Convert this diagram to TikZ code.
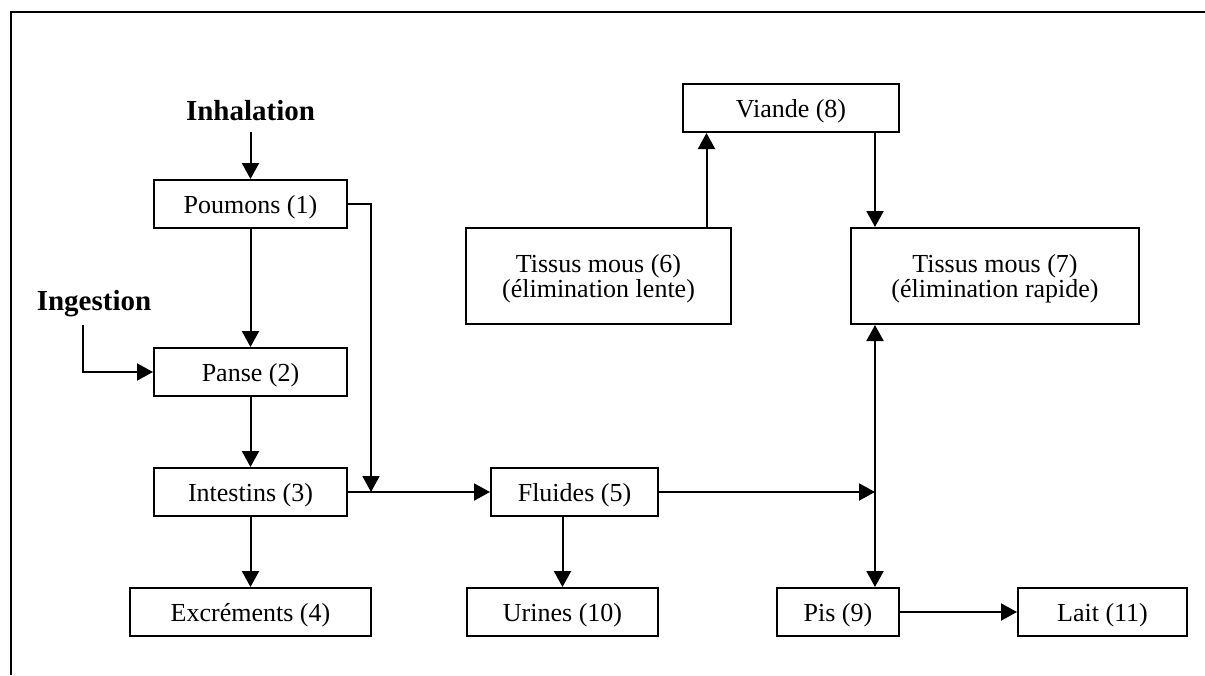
\documentclass[tikz,border=0pt]{standalone}
\usepackage{fontspec}
\setmainfont{Liberation Serif}
\usetikzlibrary{arrows.meta}
\begin{document}
\begin{tikzpicture}[x=0.5pt,y=-0.5pt,
  box/.style={draw,line width=1pt,rectangle,inner sep=0pt,anchor=center,text depth=0pt,
    font=\fontsize{13}{12.5}\selectfont,align=center},
  lbl/.style={inner sep=0pt,font=\fontsize{14.5}{16}\selectfont\bfseries},
  arr/.style={line width=1pt,-{Triangle[length=8pt,width=8.5pt]}},
  arrb/.style={line width=1pt,{Triangle[length=8pt,width=8.5pt]}-{Triangle[length=8pt,width=8.5pt]}}]
\useasboundingbox (0,0) rectangle (1205,675);
% frame
\draw[line width=1pt] (11,675) -- (11,12) -- (1205,12);

% boxes
\node[box,minimum width=96.5pt,minimum height=24pt] (poumons) at (250.5,204) {Poumons (1)};
\node[box,minimum width=96.5pt,minimum height=24pt] (panse) at (250.5,372) {Panse (2)};
\node[box,minimum width=96.5pt,minimum height=24pt] (intestins) at (250.5,492) {Intestins (3)};
\node[box,minimum width=120.5pt,minimum height=24pt] (excrements) at (250.5,612) {Excréments (4)};
\node[box,minimum width=83.5pt,minimum height=24pt] (fluides) at (574.5,492) {Fluides (5)};
\node[box,minimum width=95.5pt,minimum height=24pt] (urines) at (562.5,612) {Urines (10)};
\node[box,minimum width=108pt,minimum height=24pt] (viande) at (791,108) {Viande (8)};
\node[box,minimum width=132.5pt,minimum height=48pt] (tissus6) at (598.5,276) {Tissus mous (6)\\(élimination lente)};
\node[box,minimum width=144pt,minimum height=48pt] (tissus7) at (995,276) {Tissus mous (7)\\(élimination rapide)};
\node[box,minimum width=61pt,minimum height=24pt] (pis) at (838,612) {Pis (9)};
\node[box,minimum width=84.5pt,minimum height=24pt] (lait) at (1102.5,612) {Lait (11)};

% entry labels
\node[lbl] (inhal) at (250.5,111) {Inhalation};
\node[lbl] (ingest) at (94,304) {Ingestion};

% junction points
\coordinate (ingtop) at (83,325);
\coordinate (jl) at (371,492);
\coordinate (jr) at (875,492);

% connectors
\draw[arr,shorten <=5pt] (poumons.north |- inhal.south) -- (poumons.north);
\draw[arr] (ingtop) |- (panse.west);
\draw[arr] (poumons.south) -- (panse.north);
\draw[arr] (panse.south) -- (intestins.north);
\draw[arr] (intestins.south) -- (excrements.north);
\draw[arr] (poumons.east) -| (jl);
\draw[arr] (intestins.east) -- (fluides.west);
\draw[arr] (urines.north |- fluides.south) -- (urines.north);
\draw[arr] (fluides.east) -- (jr);
\draw[arrb] (jr |- tissus7.south) -- (jr |- pis.north);
\draw[arr] ([xshift=54pt]tissus6.north) -- ([xshift=54pt]tissus6.north |- viande.south);
\draw[arr] (jr |- viande.south) -- (jr |- tissus7.north);
\draw[arr] (pis.east) -- (lait.west);
\end{tikzpicture}
\end{document}
